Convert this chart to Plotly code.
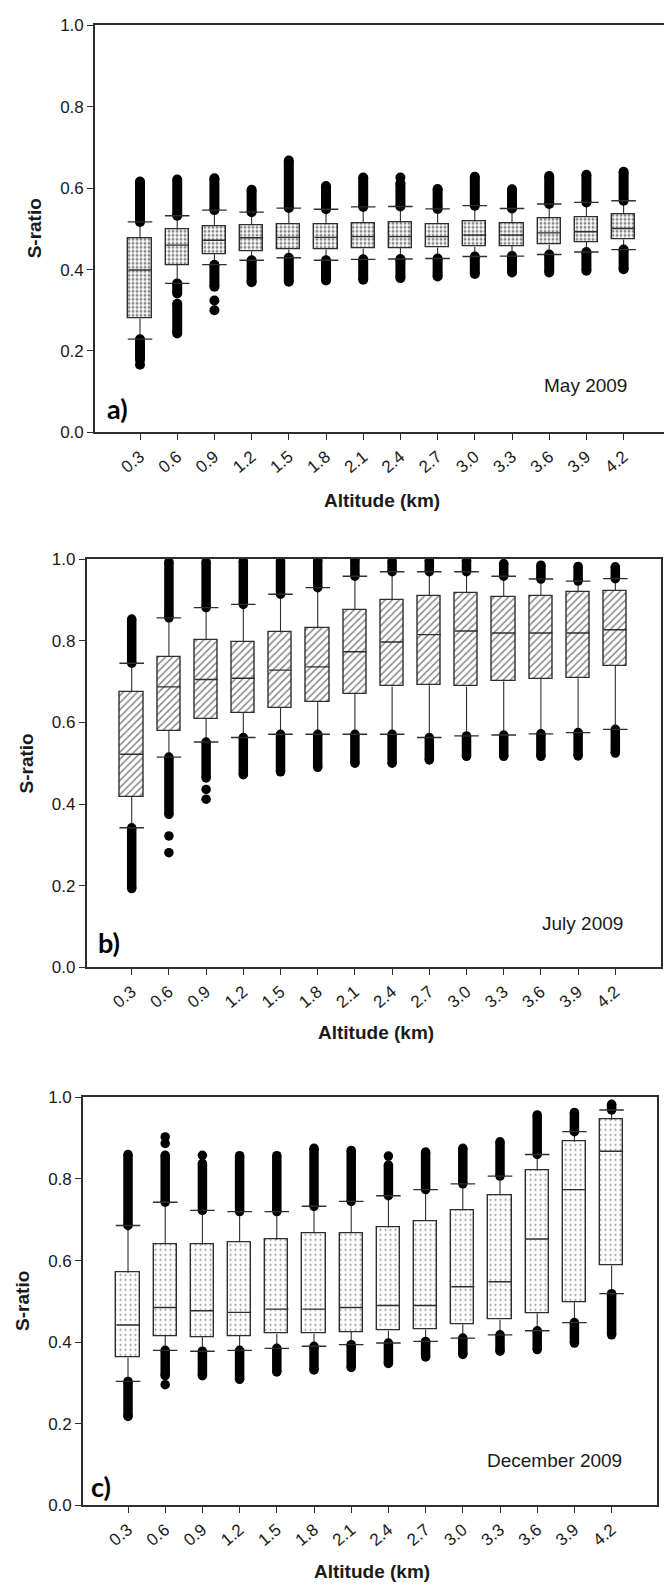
import plotly.graph_objects as go

# ---------------- data ----------------
altitudes = [0.3, 0.6, 0.9, 1.2, 1.5, 1.8, 2.1, 2.4, 2.7, 3.0, 3.3, 3.6, 3.9, 4.2]
tick_labels = ["0.3", "0.6", "0.9", "1.2", "1.5", "1.8", "2.1", "2.4", "2.7", "3.0", "3.3", "3.6", "3.9", "4.2"]
y_ticks = [0.0, 0.2, 0.4, 0.6, 0.8, 1.0]

# (a) May 2009
may_q1 = [0.280, 0.411, 0.438, 0.445, 0.449, 0.449, 0.452, 0.453, 0.454, 0.456, 0.458, 0.461, 0.468, 0.474]
may_median = [0.399, 0.460, 0.472, 0.478, 0.479, 0.479, 0.481, 0.481, 0.481, 0.485, 0.485, 0.490, 0.493, 0.501]
may_q3 = [0.476, 0.498, 0.507, 0.509, 0.512, 0.511, 0.514, 0.515, 0.512, 0.518, 0.514, 0.526, 0.529, 0.536]
may_low = [0.229, 0.366, 0.412, 0.423, 0.429, 0.423, 0.425, 0.426, 0.427, 0.432, 0.433, 0.437, 0.443, 0.449]
may_high = [0.517, 0.532, 0.546, 0.541, 0.551, 0.548, 0.554, 0.555, 0.549, 0.557, 0.550, 0.561, 0.565, 0.569]
may_out_max = [0.616, 0.621, 0.624, 0.596, 0.668, 0.605, 0.626, 0.612, 0.598, 0.628, 0.597, 0.630, 0.633, 0.640]
may_out_min = [0.178, 0.341, 0.358, 0.369, 0.370, 0.373, 0.375, 0.379, 0.383, 0.389, 0.393, 0.393, 0.397, 0.401]
may_extra_alt = [0.3, 0.9, 0.9, 2.4]
may_extra_val = [0.166, 0.324, 0.300, 0.626]
may_seg_alt = [0.6]
may_seg_lo = [0.243]
may_seg_hi = [0.316]

# (b) July 2009
jul_q1 = [0.418, 0.580, 0.609, 0.624, 0.636, 0.651, 0.670, 0.688, 0.691, 0.688, 0.701, 0.706, 0.708, 0.738]
jul_median = [0.522, 0.687, 0.705, 0.708, 0.728, 0.736, 0.773, 0.797, 0.815, 0.824, 0.819, 0.819, 0.819, 0.827]
jul_q3 = [0.674, 0.760, 0.801, 0.797, 0.821, 0.830, 0.875, 0.900, 0.910, 0.916, 0.908, 0.910, 0.918, 0.922]
jul_low = [0.342, 0.515, 0.552, 0.563, 0.571, 0.571, 0.571, 0.571, 0.563, 0.567, 0.569, 0.572, 0.575, 0.583]
jul_high = [0.745, 0.856, 0.881, 0.889, 0.914, 0.930, 0.958, 0.969, 0.969, 0.969, 0.958, 0.951, 0.946, 0.952]
jul_out_max = [0.853, 0.993, 0.993, 0.995, 0.995, 0.998, 1.000, 0.995, 0.997, 0.997, 0.989, 0.985, 0.982, 0.981]
jul_out_min = [0.193, 0.375, 0.464, 0.472, 0.479, 0.490, 0.500, 0.500, 0.508, 0.517, 0.517, 0.517, 0.518, 0.525]
jul_extra_alt = [0.6, 0.6, 0.9, 0.9]
jul_extra_val = [0.322, 0.281, 0.436, 0.412]
jul_seg_alt = []
jul_seg_lo = []
jul_seg_hi = []

# (c) December 2009
dec_q1 = [0.362, 0.415, 0.412, 0.415, 0.421, 0.421, 0.425, 0.428, 0.431, 0.444, 0.455, 0.471, 0.498, 0.588]
dec_median = [0.442, 0.485, 0.477, 0.473, 0.481, 0.481, 0.485, 0.490, 0.490, 0.536, 0.548, 0.653, 0.774, 0.868]
dec_q3 = [0.570, 0.640, 0.639, 0.645, 0.651, 0.667, 0.667, 0.681, 0.697, 0.723, 0.761, 0.820, 0.891, 0.945]
dec_low = [0.304, 0.380, 0.378, 0.380, 0.385, 0.390, 0.394, 0.398, 0.402, 0.410, 0.418, 0.428, 0.448, 0.519]
dec_high = [0.686, 0.743, 0.723, 0.720, 0.720, 0.733, 0.745, 0.759, 0.774, 0.788, 0.807, 0.860, 0.916, 0.969]
dec_out_max = [0.860, 0.858, 0.838, 0.857, 0.857, 0.875, 0.870, 0.834, 0.866, 0.875, 0.891, 0.957, 0.963, 0.983]
dec_out_min = [0.218, 0.318, 0.318, 0.309, 0.327, 0.332, 0.338, 0.348, 0.364, 0.370, 0.378, 0.382, 0.398, 0.418]
dec_extra_alt = [0.6, 0.6, 0.6, 0.9, 2.4]
dec_extra_val = [0.903, 0.887, 0.296, 0.858, 0.856]
dec_seg_alt = []
dec_seg_lo = []
dec_seg_hi = []

# ---------------- layout geometry ----------------
W, H = 664, 1593
STEP = 0.3
BOX_W = 0.62 * STEP
CAP_W = 0.66 * STEP
LINE_C = "#2e2e2e"
TXT_C = "#1a1a1a"
TICK_FONT = dict(family="Liberation Sans, Arial, sans-serif", size=17, color=TXT_C)

def px_x(p):
    return p / W

def px_y(p):
    return 1 - p / H

panels = [
    dict(name="a", left=95, right=664, top=16.5, bottom=428.5, mirror_y=False,
         q1=may_q1, med=may_median, q3=may_q3, lo=may_low, hi=may_high,
         omax=may_out_max, omin=may_out_min, ex_alt=may_extra_alt, ex_val=may_extra_val,
         seg_alt=may_seg_alt, seg_lo=may_seg_lo, seg_hi=may_seg_hi,
         pattern=dict(shape=".", fgcolor="#111111", bgcolor="white", size=4, solidity=0.45),
         msize=10, month="May 2009", month_pos=(629, 381), lab="a)", lab_pos=(117, 404),
         xt_y=497.5),
    dict(name="b", left=86.7, right=660.7, top=556.7, bottom=970, mirror_y=True,
         q1=jul_q1, med=jul_median, q3=jul_q3, lo=jul_low, hi=jul_high,
         omax=jul_out_max, omin=jul_out_min, ex_alt=jul_extra_alt, ex_val=jul_extra_val,
         seg_alt=jul_seg_alt, seg_lo=jul_seg_lo, seg_hi=jul_seg_hi,
         pattern=dict(shape="/", fgcolor="#111111", bgcolor="white", size=5, solidity=0.3),
         msize=9.5, month="July 2009", month_pos=(625, 925.5), lab="b)", lab_pos=(108.6, 945),
         xt_y=1036),
    dict(name="c", left=83, right=657, top=1101.5, bottom=1514.5, mirror_y=True,
         q1=dec_q1, med=dec_median, q3=dec_q3, lo=dec_low, hi=dec_high,
         omax=dec_out_max, omin=dec_out_min, ex_alt=dec_extra_alt, ex_val=dec_extra_val,
         seg_alt=dec_seg_alt, seg_lo=dec_seg_lo, seg_hi=dec_seg_hi,
         pattern=dict(shape=".", fgcolor="#222222", bgcolor="white", size=5, solidity=0.14),
         msize=9.5, month="December 2009", month_pos=(623.5, 1469), lab="c)", lab_pos=(101, 1495.5),
         xt_y=1581),
]

fig = go.Figure()
annotations = []
PX_PER_STEP = 37.2  # pixels between neighbouring categories

for k, p in enumerate(panels):
    sfx = "" if k == 0 else str(k + 1)
    xa, ya = "x" + sfx, "y" + sfx
    x0 = altitudes[0] - 1.21 * STEP
    span_px = p["right"] - p["left"]
    x1 = x0 + span_px / PX_PER_STEP * STEP

    # whiskers
    wx, wy = [], []
    for a, q1, q3, lo, hi in zip(altitudes, p["q1"], p["q3"], p["lo"], p["hi"]):
        wx += [a, a, None, a, a, None]
        wy += [q3, hi, None, q1, lo, None]
    fig.add_trace(go.Scatter(x=wx, y=wy, mode="lines", line=dict(color=LINE_C, width=1.1),
                             xaxis=xa, yaxis=ya, hoverinfo="skip", showlegend=False))

    # outlier columns (dense runs of points)
    cx, cy, ex, ey = [], [], [], []
    for a, lo, hi, omin, omax in zip(altitudes, p["lo"], p["hi"], p["omin"], p["omax"]):
        cx += [a, a, None, a, a, None]
        cy += [hi, omax, None, lo, omin, None]
        ex += [a, a, a, a]
        ey += [hi, omax, lo, omin]
    for a, slo, shi in zip(p["seg_alt"], p["seg_lo"], p["seg_hi"]):
        cx += [a, a, None]
        cy += [slo, shi, None]
        ex += [a, a]
        ey += [slo, shi]
    ex += list(p["ex_alt"])
    ey += list(p["ex_val"])
    fig.add_trace(go.Scatter(x=cx, y=cy, mode="lines", line=dict(color="black", width=p["msize"]),
                             xaxis=xa, yaxis=ya, hoverinfo="skip", showlegend=False))
    fig.add_trace(go.Scatter(x=ex, y=ey, mode="markers",
                             marker=dict(color="black", size=p["msize"], line=dict(width=0)),
                             xaxis=xa, yaxis=ya, hoverinfo="skip", showlegend=False))

    # boxes
    fig.add_trace(go.Bar(x=altitudes, y=[b - a for a, b in zip(p["q1"], p["q3"])], base=p["q1"],
                         width=BOX_W,
                         marker=dict(color="white", line=dict(color=LINE_C, width=1.4),
                                     pattern=p["pattern"]),
                         xaxis=xa, yaxis=ya, hoverinfo="skip", showlegend=False))

    # medians and caps
    mx, my = [], []
    for a, m in zip(altitudes, p["med"]):
        mx += [a - BOX_W / 2, a + BOX_W / 2, None]
        my += [m, m, None]
    fig.add_trace(go.Scatter(x=mx, y=my, mode="lines", line=dict(color=LINE_C, width=1.4),
                             xaxis=xa, yaxis=ya, hoverinfo="skip", showlegend=False))
    kx, ky = [], []
    for a, lo, hi in zip(altitudes, p["lo"], p["hi"]):
        kx += [a - CAP_W / 2, a + CAP_W / 2, None, a - CAP_W / 2, a + CAP_W / 2, None]
        ky += [hi, hi, None, lo, lo, None]
    fig.add_trace(go.Scatter(x=kx, y=ky, mode="lines", line=dict(color=LINE_C, width=1.4),
                             xaxis=xa, yaxis=ya, hoverinfo="skip", showlegend=False))

    xkey = "xaxis" + sfx
    ykey = "yaxis" + sfx
    fig.update_layout(**{
        xkey: dict(domain=[px_x(p["left"]), min(1.0, px_x(p["right"]))], range=[x0, x1],
                   anchor=ya, tickvals=altitudes, ticktext=tick_labels, tickangle=-40,
                   ticks="outside", ticklen=6, tickwidth=1.2, tickcolor=LINE_C,
                   showline=True, linecolor=LINE_C, linewidth=1.6, mirror=True,
                   showgrid=False, zeroline=False, tickfont=TICK_FONT, fixedrange=True),
        ykey: dict(domain=[px_y(p["bottom"]), px_y(p["top"])], range=[0, 1], anchor=xa,
                   tickvals=y_ticks, tickformat=".1f",
                   ticks="outside", ticklen=6, tickwidth=1.2, tickcolor=LINE_C,
                   showline=True, linecolor=LINE_C, linewidth=1.6, mirror=p["mirror_y"],
                   showgrid=False, zeroline=False, tickfont=TICK_FONT, fixedrange=True),
    })

    cy_mid = (p["top"] + p["bottom"]) / 2
    annotations += [
        dict(text="<b>S-ratio</b>", x=px_x(p["left"] - 60.5), y=px_y(cy_mid), xref="paper", yref="paper",
             textangle=-90, showarrow=False, xanchor="center", yanchor="middle",
             font=dict(family="Liberation Sans, Arial, sans-serif", size=19, color=TXT_C)),
        dict(text="<b>Altitude (km)</b>", x=px_x((p["left"] + min(p["right"], 668)) / 2 + 2),
             y=px_y(p["xt_y"]), xref="paper", yref="paper", showarrow=False,
             xanchor="center", yanchor="middle",
             font=dict(family="Liberation Sans, Arial, sans-serif", size=19, color=TXT_C)),
        dict(text=p["month"], x=px_x(p["month_pos"][0]), y=px_y(p["month_pos"][1]),
             xref="paper", yref="paper", showarrow=False, xanchor="right", yanchor="middle",
             font=dict(family="Liberation Sans, Arial, sans-serif", size=19, color=TXT_C)),
        dict(text="<b>" + p["lab"] + "</b>", x=px_x(p["lab_pos"][0]), y=px_y(p["lab_pos"][1]),
             xref="paper", yref="paper", showarrow=False, xanchor="center", yanchor="middle",
             font=dict(family="Lato, Open Sans, sans-serif", size=27, color="black")),
    ]

fig.update_layout(width=W, height=H, margin=dict(l=0, r=0, t=0, b=0, pad=0),
                  paper_bgcolor="white", plot_bgcolor="white", showlegend=False,
                  annotations=annotations, bargap=0)

fig.write_html("out.html", config={"displayModeBar": False})
